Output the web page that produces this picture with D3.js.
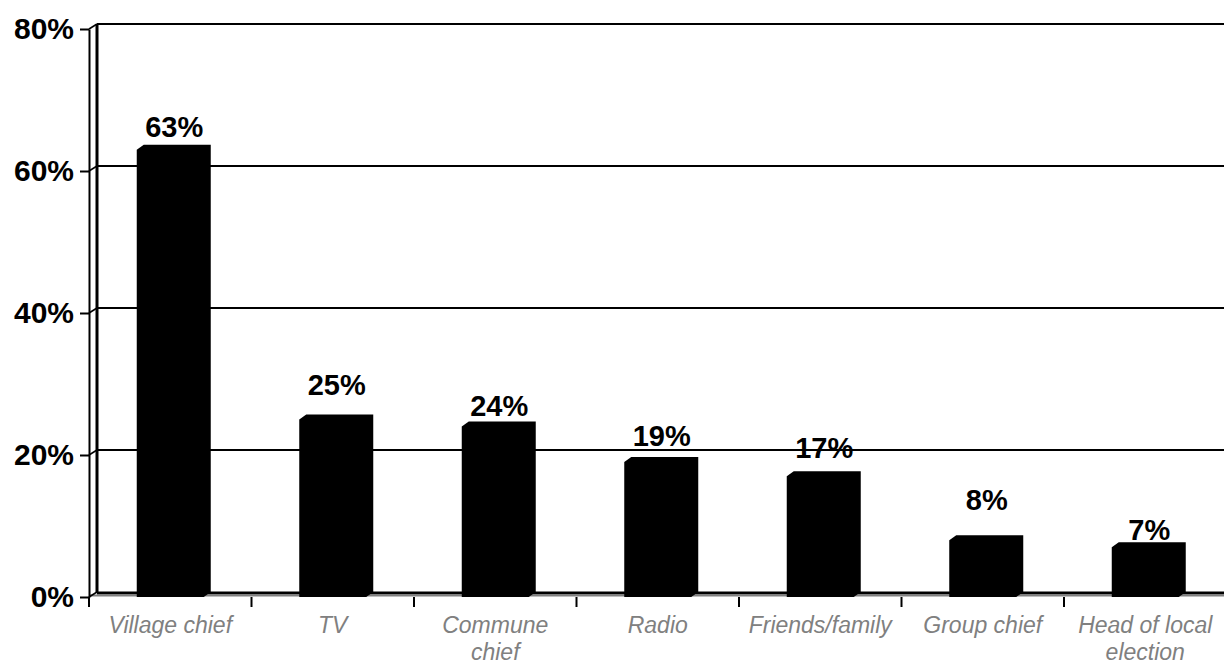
<!DOCTYPE html>
<html>
<head>
<meta charset="utf-8">
<script src="https://cdn.jsdelivr.net/npm/d3@7"></script>
<style>
  body { margin: 0; background: #fff; }
  svg { display: block; font-family: Arial, "Liberation Sans", sans-serif; }
</style>
</head>
<body>
<div id="chart"></div>
<script>
// data
const categories = ["Village chief", "TV", "Commune chief", "Radio", "Friends/family", "Group chief", "Head of local election"];
const shares = [0.63, 0.25, 0.24, 0.19, 0.17, 0.08, 0.07];
const yTicks = [0, 0.2, 0.4, 0.6, 0.8];

// layout
const W = 1224, H = 666;
const left = 89, floorY = 597, topY = 29;
const step = 162.5;
const depth = {x: 8, y: 5};      // wall depth
const barDepth = {x: 7, y: 5};
// gap between the bar top and its label, as placed in the original
const labelGap = [8, 20, 6, 11, 13, 25, 2];

const svg = d3.select("#chart").append("svg")
  .attr("width", W).attr("height", H);

const x = d3.scaleBand()
  .domain(categories)
  .range([left, left + step * categories.length])
  .paddingInner(0).paddingOuter(0);

const y = d3.scaleLinear().domain([0, 0.8]).range([floorY, topY]);

// back wall gridlines (offset by depth) with diagonals to the axis
yTicks.filter(d => d > 0).forEach(d => {
  svg.append("line")
    .attr("x1", left + depth.x).attr("x2", W + 5)
    .attr("y1", y(d) - depth.y).attr("y2", y(d) - depth.y)
    .attr("stroke", "#000").attr("stroke-width", 2);
  svg.append("line")
    .attr("x1", left).attr("y1", y(d))
    .attr("x2", left + depth.x).attr("y2", y(d) - depth.y)
    .attr("stroke", "#000").attr("stroke-width", 1.5);
});

// inner wall line
svg.append("line")
  .attr("x1", left + depth.x).attr("x2", left + depth.x)
  .attr("y1", y(0.8) - depth.y).attr("y2", floorY - depth.y)
  .attr("stroke", "#000").attr("stroke-width", 3);

// floor: back edge black, front edge gray
svg.append("line")
  .attr("x1", left + depth.x).attr("x2", W + 5)
  .attr("y1", floorY - depth.y + 1).attr("y2", floorY - depth.y + 1)
  .attr("stroke", "#000").attr("stroke-width", 3);
svg.append("line")
  .attr("x1", left).attr("x2", W + 5)
  .attr("y1", floorY - 1.5).attr("y2", floorY - 1.5)
  .attr("stroke", "#808080").attr("stroke-width", 2);
svg.append("line")
  .attr("x1", left).attr("y1", floorY)
  .attr("x2", left + depth.x).attr("y2", floorY - depth.y)
  .attr("stroke", "#000").attr("stroke-width", 1.5);

// bars as flat 3d prisms
const bw = 67;
svg.selectAll(".bar")
  .data(shares)
  .join("path")
  .attr("class", "bar")
  .attr("fill", "#000")
  .attr("d", (d, i) => {
    const cx = x(categories[i]) + x.bandwidth() / 2;
    const x0 = cx - bw / 2, x1 = cx + bw / 2;
    const yt = y(d);
    return `M${x0},${floorY} L${x0},${yt} L${x0 + barDepth.x},${yt - barDepth.y} ` +
      `L${x1 + barDepth.x},${yt - barDepth.y} L${x1 + barDepth.x},${floorY - barDepth.y} L${x1},${floorY} Z`;
  });

// value labels
svg.selectAll(".val")
  .data(shares)
  .join("text")
  .attr("class", "val")
  .attr("x", (d, i) => x(categories[i]) + x.bandwidth() / 2 + 4)
  .attr("y", (d, i) => y(d) - barDepth.y - labelGap[i])
  .attr("text-anchor", "middle")
  .style("font-weight", "bold")
  .style("font-size", "29px")
  .text(d => d3.format(".0%")(d));

// y axis
const yAxis = svg.append("g")
  .attr("transform", `translate(${left},0)`)
  .call(d3.axisLeft(y).tickValues(yTicks).tickFormat(d3.format(".0%")).tickSize(9).tickSizeOuter(0).tickPadding(6));
yAxis.select(".domain").attr("stroke-width", 2);
yAxis.selectAll(".tick line").attr("stroke-width", 2);
yAxis.selectAll("text")
  .style("font-size", "30px").style("font-weight", "bold")
  .attr("fill", "#000").attr("font-family", null);

// x axis: boundary ticks + wrapped italic labels
const bounds = d3.range(categories.length + 1).map(i => left + i * step);
svg.selectAll(".xtick")
  .data(bounds)
  .join("line")
  .attr("class", "xtick")
  .attr("x1", d => d).attr("x2", d => d)
  .attr("y1", floorY).attr("y2", floorY + 10)
  .attr("stroke", "#000").attr("stroke-width", 2);

const xAxis = svg.append("g")
  .attr("transform", `translate(0,${floorY})`)
  .call(d3.axisBottom(x).tickSize(0).tickPadding(0));
xAxis.select(".domain").remove();
xAxis.selectAll("text")
  .attr("y", 36).attr("dy", null)
  .attr("fill", "#808080").attr("font-family", null)
  .style("font-size", "23px").style("font-style", "italic")
  .call(wrap, 152);

function wrap(texts, width) {
  texts.each(function() {
    const t = d3.select(this);
    const words = t.text().split(/\s+/);
    const yy = t.attr("y");
    t.text(null);
    let line = [];
    let ts = t.append("tspan").attr("x", 0).attr("y", yy);
    let n = 0;
    words.forEach(w => {
      line.push(w);
      ts.text(line.join(" "));
      if (ts.node().getComputedTextLength() > width && line.length > 1) {
        line.pop();
        ts.text(line.join(" "));
        line = [w];
        n++;
        ts = t.append("tspan").attr("x", 0).attr("y", +yy + n * 27).text(w);
      }
    });
  });
}
</script>
</body>
</html>
